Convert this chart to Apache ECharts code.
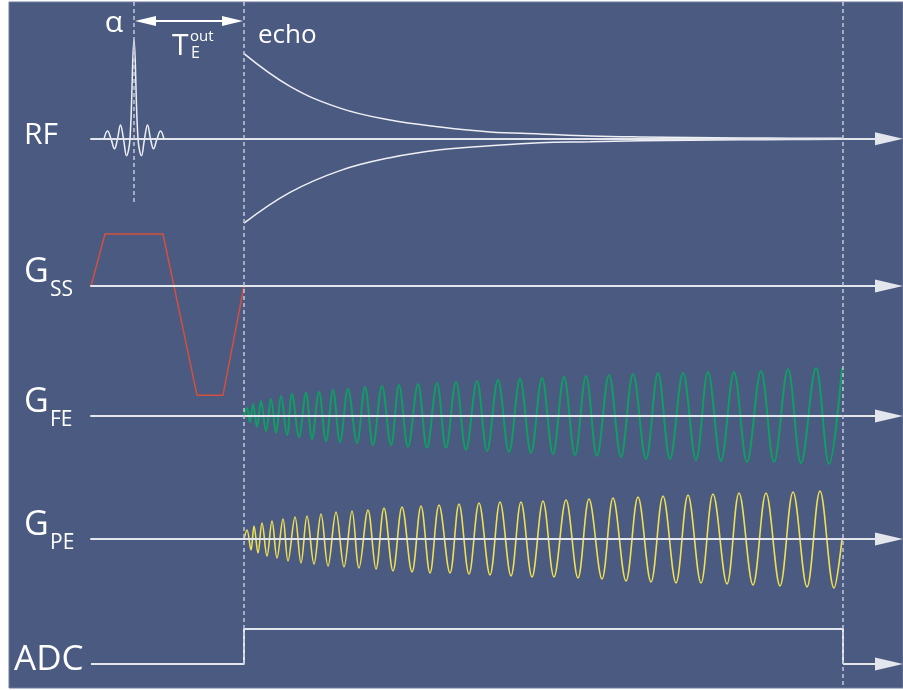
<!DOCTYPE html>
<html><head><meta charset="utf-8">
<script src="https://cdn.jsdelivr.net/npm/echarts@6/dist/echarts.min.js"></script>
<style>html,body{margin:0;padding:0;background:#fff}#c{width:903px;height:690px}</style>
</head><body><div id="c"></div>
<script>
// time axis in ms (sequence start = 0)
const tRF = 0.43, tEchoStart = 1.53, tEchoEnd = 7.52, tMax = 7.98;
const channelLabels = ['RF', 'G', 'G', 'G', 'ADC'];
const channelSubs = ['', 'SS', 'FE', 'PE', ''];

// RF sinc pulse [t, amplitude]
const rfPulse = [[0.13,0],[0.165,0.08],[0.20,0],[0.235,-0.10],[0.265,0],[0.295,0.14],[0.325,0],[0.355,-0.17],[0.39,0],[0.43,1.0],[0.47,0],[0.505,-0.17],[0.535,0],[0.565,0.14],[0.595,0],[0.625,-0.10],[0.66,0],[0.695,0.08],[0.73,0]];
// echo envelope (upper / lower)
const echoUpper = [[1.53,0.86],[1.99,0.53],[2.49,0.31],[2.99,0.19],[3.49,0.12],[3.99,0.07],[4.49,0.05],[4.99,0.03],[5.49,0.02],[5.99,0.015],[6.49,0.01],[6.99,0.007],[7.52,0.005]];
const echoLower = [[1.53,-0.85],[1.99,-0.54],[2.49,-0.32],[2.99,-0.19],[3.49,-0.11],[3.99,-0.07],[4.49,-0.04],[4.99,-0.03],[5.49,-0.02],[5.99,-0.015],[6.49,-0.01],[6.99,-0.007],[7.52,-0.005]];
// slice-selection gradient
const gss = [[0,0],[0.14,1],[0.72,1],[1.06,-2.1],[1.32,-2.1],[1.53,0]];
// frequency-encoding gradient (extrema)
const gfe = [[1.53,0],[1.56,0.16],[1.59,-0.12],[1.62,0.24],[1.66,-0.22],[1.70,0.30],[1.75,-0.30],[1.80,0.34],[1.85,-0.34],[1.90,0.40],[1.96,-0.38],[2.01,0.44],[2.08,-0.42],[2.15,0.46],[2.21,-0.46],[2.28,0.48],[2.35,-0.50],[2.42,0.52],[2.49,-0.52],[2.57,0.54],[2.66,-0.54],[2.74,0.58],[2.82,-0.58],[2.91,0.60],[3.00,-0.58],[3.08,0.62],[3.17,-0.62],[3.27,0.64],[3.36,-0.64],[3.46,0.66],[3.55,-0.64],[3.65,0.68],[3.75,-0.68],[3.86,0.70],[3.96,-0.70],[4.07,0.72],[4.18,-0.72],[4.29,0.74],[4.40,-0.74],[4.51,0.76],[4.62,-0.76],[4.73,0.78],[4.84,-0.78],[4.95,0.80],[5.06,-0.80],[5.18,0.82],[5.30,-0.82],[5.42,0.84],[5.55,-0.86],[5.67,0.86],[5.79,-0.86],[5.92,0.86],[6.05,-0.88],[6.17,0.88],[6.30,-0.90],[6.43,0.88],[6.56,-0.92],[6.70,0.90],[6.83,-0.92],[6.97,0.94],[7.10,-0.94],[7.25,0.96],[7.38,-0.96],[7.51,0.96]];
// phase-encoding gradient (extrema)
const gpe = [[1.53,0],[1.56,0.18],[1.60,-0.22],[1.63,0.26],[1.67,-0.28],[1.71,0.32],[1.76,-0.34],[1.81,0.36],[1.86,-0.38],[1.92,0.40],[1.97,-0.44],[2.04,0.44],[2.10,-0.48],[2.16,0.46],[2.23,-0.50],[2.30,0.50],[2.37,-0.54],[2.45,0.54],[2.53,-0.56],[2.61,0.56],[2.68,-0.58],[2.77,0.58],[2.85,-0.60],[2.93,0.62],[3.02,-0.64],[3.11,0.64],[3.21,-0.66],[3.30,0.66],[3.39,-0.68],[3.48,0.68],[3.59,-0.68],[3.68,0.70],[3.78,-0.70],[3.88,0.72],[3.99,-0.72],[4.09,0.74],[4.20,-0.74],[4.30,0.74],[4.41,-0.76],[4.52,0.76],[4.63,-0.76],[4.75,0.78],[4.87,-0.78],[4.98,0.80],[5.11,-0.80],[5.22,0.82],[5.35,-0.84],[5.47,0.84],[5.60,-0.86],[5.72,0.86],[5.85,-0.88],[5.97,0.88],[6.10,-0.88],[6.22,0.90],[6.36,-0.90],[6.48,0.92],[6.62,-0.92],[6.75,0.92],[6.89,-0.94],[7.02,0.94],[7.16,-0.96],[7.29,0.96],[7.43,-0.98],[7.51,0]];
// ADC gate
const adc = [[0,0],[1.53,0],[1.53,1],[7.52,1],[7.52,0]];

const BG = '#4b5a80', AX = '#e4e6ee', DASH = '#c3c8d6';
const grids = [
  {top:10, height:228, ymin:-1, ymax:1.3},
  {top:156, height:260, ymin:-2.5, ymax:2.5},
  {top:341, height:150, ymin:-1.5, ymax:1.5},
  {top:464, height:150, ymin:-1.5, ymax:1.5},
  {top:611.5, height:70, ymin:-0.5, ymax:1.5}
];
const chart = echarts.init(document.getElementById('c'), null, {renderer:'canvas'});
const option = {
  animation:false,
  backgroundColor:'#ffffff',
  grid: grids.map(g => ({left:91, right:14, top:g.top, height:g.height})),
  xAxis: grids.map((g,i) => ({
    type:'value', gridIndex:i, min:0, max:tMax, z:5,
    axisLine:{show:i!==4, onZero:true, symbol:['none','triangle'], symbolSize:[13,28], lineStyle:{color:AX, width:2}},
    axisTick:{show:false}, axisLabel:{show:false}, splitLine:{show:false}
  })),
  yAxis: grids.map((g,i) => ({
    type:'value', gridIndex:i, min:g.ymin, max:g.ymax,
    axisLine:{show:false}, axisTick:{show:false}, axisLabel:{show:false}, splitLine:{show:false}
  })),
  series: [
    {type:'line', xAxisIndex:0, yAxisIndex:0, data:rfPulse, smooth:0.4, showSymbol:false, lineStyle:{color:'#eef0f5', width:1.5}, z:3},
    {type:'line', xAxisIndex:0, yAxisIndex:0, data:echoUpper, smooth:0.4, showSymbol:false, lineStyle:{color:'#eef0f5', width:1.5}, z:3},
    {type:'line', xAxisIndex:0, yAxisIndex:0, data:echoLower, smooth:0.4, showSymbol:false, lineStyle:{color:'#eef0f5', width:1.5}, z:3},
    {type:'line', xAxisIndex:1, yAxisIndex:1, data:gss, showSymbol:false, lineStyle:{color:'#d2503f', width:1.5}, z:3},
    {type:'line', xAxisIndex:2, yAxisIndex:2, data:gfe, smooth:0.36, showSymbol:false, lineStyle:{color:'#0f9f63', width:2}, z:3},
    {type:'line', xAxisIndex:3, yAxisIndex:3, data:gpe, smooth:0.36, showSymbol:false, lineStyle:{color:'#eee052', width:1.6}, z:3},
    {type:'line', xAxisIndex:4, yAxisIndex:4, data:adc, showSymbol:false, lineStyle:{color:AX, width:2}, z:3,
      markLine:{silent:true, symbol:['none','triangle'], symbolSize:[13,28], label:{show:false},
        lineStyle:{color:AX, width:2, type:'solid'}, data:[[{coord:[tEchoEnd,0]},{coord:[tMax,0]}]]}}
  ]
};
chart.setOption(option);

const P = (gi, t, v) => chart.convertToPixel({gridIndex:gi}, [t, v]);
const xRF = P(0,tRF,0)[0], xE = P(0,tEchoStart,0)[0], xEnd = P(0,tEchoEnd,0)[0];
const panelTop = 2, panelBottom = 688;
const g = [];
g.push({type:'rect', z:-1, shape:{x:9, y:panelTop, width:894, height:panelBottom-panelTop}, style:{fill:BG, stroke:'#6f7b98', lineWidth:1}});
const dash = {stroke:DASH, lineWidth:1.5, lineDash:[4,3]};
g.push({type:'line', z:20, shape:{x1:xRF, y1:panelTop, x2:xRF, y2:P(0,tRF,-0.64)[1]}, style:dash});
g.push({type:'line', z:20, shape:{x1:xE, y1:panelTop, x2:xE, y2:P(4,tEchoStart,0)[1]}, style:dash});
g.push({type:'line', z:20, shape:{x1:xEnd, y1:panelTop, x2:xEnd, y2:panelBottom}, style:dash});
// TE arrow
const yA = P(0,tRF,1.19)[1];
g.push({type:'line', z:20, shape:{x1:xRF+10, y1:yA, x2:xE-10, y2:yA}, style:{stroke:'#ffffff', lineWidth:2}});
g.push({type:'polygon', z:20, shape:{points:[[xRF+1,yA],[xRF+22,yA-5],[xRF+22,yA+5]]}, style:{fill:'#ffffff'}});
g.push({type:'polygon', z:20, shape:{points:[[xE-1,yA],[xE-22,yA-5],[xE-22,yA+5]]}, style:{fill:'#ffffff'}});
const FONT = '"Open Sans", "Noto Sans", sans-serif';
function txt(text, x, y, size, align){
  g.push({type:'text', z:20, style:{text:text, x:x, y:y, fill:'#ffffff', font:size+'px '+FONT, align:align||'left', verticalAlign:'middle', textAlign:align||'left', textVerticalAlign:'middle'}});
}
txt('α', 114, 23, 30, 'center');
txt('T', 172, 46, 30);
txt('E', 191, 53, 16);
txt('out', 190, 37, 15);
txt('echo', 258, 36, 26);
const base = grids.map((gg,i) => P(i,0,0)[1]);
txt(channelLabels[0], 24, base[0]-3, 30);
for (let i=1;i<=3;i++){
  txt(channelLabels[i], 24, base[i]-14, 34);
  txt(channelSubs[i], 50, base[i]+4, 21);
}
txt(channelLabels[4], 14, base[4]-4, 35);
chart.setOption({graphic:g});
</script></body></html>
